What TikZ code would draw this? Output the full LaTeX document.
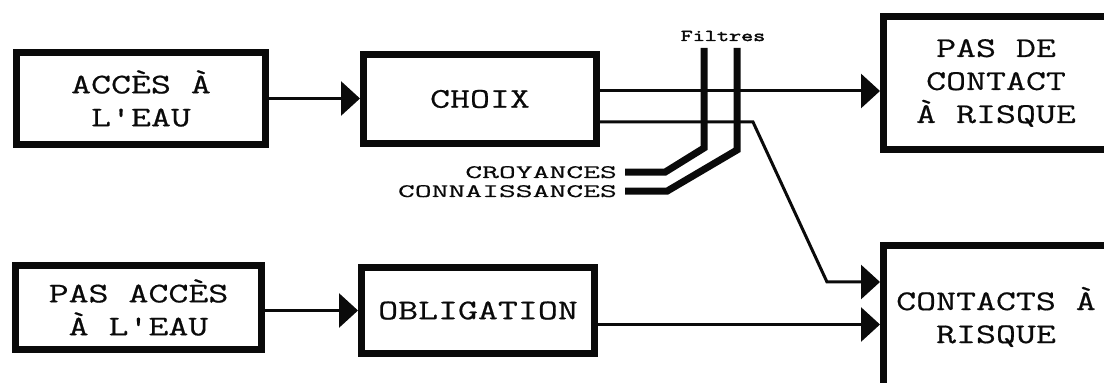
\documentclass[tikz,border=0pt]{standalone}
\usepackage{fontspec}
\usepackage{tikz}
\usetikzlibrary{arrows.meta,calc,positioning}
\newfontfamily\boxfont[FakeStretch=1.36,FakeBold=0.6]{Latin Modern Mono}
\newfontfamily\tagfont[FakeStretch=1.72,FakeBold=0.4]{Latin Modern Mono}
\newfontfamily\filtrefont[FakeStretch=1.42,FakeBold=2.5]{Latin Modern Mono}
\definecolor{scanInk}{HTML}{0A0A0A}

\begin{document}
\begin{tikzpicture}[x=1pt,y=1pt,
    box/.style={draw=scanInk, line width=7pt, inner sep=0pt, align=center, text=scanInk,
      font={\boxfont\fontsize{28.5}{33}\selectfont}},
    flow/.style={draw=scanInk, line width=3pt, -{Triangle[length=19pt,width=34pt]}},
    filtre/.style={draw=scanInk, line width=7pt, line join=miter},
    tag/.style={text=scanInk, inner sep=0pt, font={\tagfont\fontsize{19}{19}\selectfont}}]
    \useasboundingbox (0,0) rectangle (1104,383);
    \clip (0,0) rectangle (1104,383);
    \node[box, minimum width=249, minimum height=92] (acces) at (141,284.5) {ACCÈS À\\L'EAU};
    \node[box, minimum width=233, minimum height=89] (choix) at (480,284) {CHOIX};
    \node[box, minimum width=225, minimum height=133] (pasde) at (996,300) {PAS DE\\CONTACT\\À RISQUE};
    \node[box, minimum width=246, minimum height=84] (pasacces) at (138.5,75.5) {PAS ACCÈS\\À L'EAU};
    \node[box, minimum width=233, minimum height=86] (oblig) at (478,72.5) {OBLIGATION};
    \node[box, minimum width=225, minimum height=143] (contacts) at (996,66) {CONTACTS À\\RISQUE};
    \node[tag, anchor=base east] (croy) at (617,205) {CROYANCES};
    \node[tag, anchor=base east] (conn) at (617,186) {CONNAISSANCES};
    \node[anchor=base, inner sep=0pt, text=scanInk, font={\filtrefont\fontsize{16.5}{16.5}\selectfont}] (filtres) at (723,342) {Filtres};
    \coordinate (bendA) at (753,261);
    \coordinate (bendB) at (827,101);
    \draw[flow] (acces.east) -- (acces.east -| choix.west);
    \draw[flow] ([yshift=8pt]choix.east) -- ([yshift=8pt]choix.east -| pasde.west);
    \draw[flow] ([yshift=-23pt]choix.east) -- (bendA) -- (bendB) -- (bendB -| contacts.west);
    \draw[flow] (pasacces.east |- oblig.west) -- (oblig.west);
    \draw[flow] ([yshift=-14pt]oblig.east) -- ([yshift=-14pt]oblig.east -| contacts.west);
    \draw[filtre] ([xshift=8pt]croy.east) -- ++(40,0) -- (704,235) -- (704,335);
    \draw[filtre] ([xshift=8pt]conn.east) -- ++(42,0) -- (737,233) -- (737,335);
  \end{tikzpicture}
\end{document}
